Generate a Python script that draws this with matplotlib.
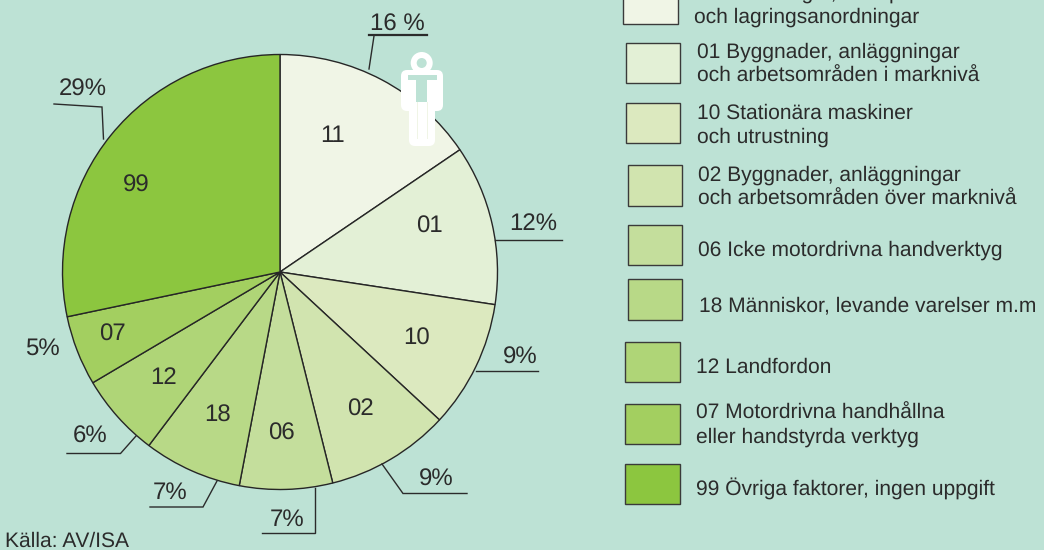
import matplotlib
matplotlib.use('Agg')
import matplotlib.pyplot as plt
from matplotlib.patches import Rectangle, FancyBboxPatch, Circle

# Slice sizes, clockwise from 12 o'clock
codes = ['11', '01', '10', '02', '06', '18', '12', '07', '99']
sizes = [15.5, 11.9, 9.5, 9.2, 6.9, 7.3, 6.2, 5.2, 28.3]
percent_labels = ['16 %', '12%', '9%', '9%', '7%', '7%', '6%', '5%', '29%']
colors = ['#F0F5E6', '#E3F0D6', '#DCE9BF', '#D1E4AF', '#C4DE9C',
          '#B8D987', '#AFD577', '#A3CF60', '#8CC63F']
legend_texts = [
    '11 Hanterings-, transport-\noch lagringsanordningar',
    '01 Byggnader, anläggningar\noch arbetsområden i marknivå',
    '10 Stationära maskiner\noch utrustning',
    '02 Byggnader, anläggningar\noch arbetsområden över marknivå',
    '06 Icke motordrivna handverktyg',
    '18 Människor, levande varelser m.m',
    '12 Landfordon',
    '07 Motordrivna handhållna\neller handstyrda verktyg',
    '99 Övriga faktorer, ingen uppgift',
]

BG = '#BDE2D5'
INK = '#2B2B2B'
H = 550

# Layout in pixels, y measured from the top
code_pos = [(333, 136), (429, 227), (417, 339), (360, 410), (281, 434),
            (218, 416), (164, 378), (112, 335), (136, 186)]
pct_pos = [(397, 25), (533, 224), (520, 358), (436, 480), (287, 520),
           (170, 493), (90, 437), (42, 349), (83, 90)]
leaders = [
    [(374, 36), (369, 69)],
    [(495, 240), (562, 240)],
    [(476, 371), (538, 371)],
    [(382, 464), (403, 493.5), (467, 493.5)],
    [(315, 488), (315, 533), (262, 533)],
    [(217, 481), (203, 507), (150, 507)],
    [(136, 436), (120.5, 453.5), (67, 453.5)],
    [(54, 104), (102, 107), (103.5, 139)],
]
# x0, x1, y0, y1 of the legend boxes
swatches = [(623, 678, -17, 23.5), (626, 680, 43, 83), (626, 680, 103, 143),
            (627.5, 682, 165, 205.5), (627.5, 682, 225, 265), (627.5, 682, 279, 320),
            (625, 680, 342, 382), (625, 680, 404, 444), (625, 680, 464, 504)]
# x and last-line baseline of the legend texts
legend_pos = [(694, 23), (697, 82), (697, 143), (698, 205), (698, 256),
              (699, 311), (696, 373), (696, 443), (696, 495)]


def Y(y):
    return H - y


plt.rcParams['font.family'] = ['Liberation Sans', 'DejaVu Sans']
plt.rcParams['text.hinting'] = 'none'
plt.rcParams['text.hinting_factor'] = 1

fig = plt.figure(figsize=(10.44, 5.5), dpi=100, facecolor=BG)
ax = fig.add_axes([0, 0, 1, 1])

ax.pie(sizes, colors=colors, center=(280, Y(272)), radius=217.5, startangle=90,
       counterclock=False, wedgeprops={'edgecolor': '#262626', 'linewidth': 1.0})
ax.set_xlim(0, 1044)
ax.set_ylim(0, H)
ax.set_aspect('equal')
ax.axis('off')

for code, (x, y) in zip(codes, code_pos):
    ax.text(x, Y(y), code, fontsize=17.4, color=INK, ha='center', va='center')
for label, (x, y) in zip(percent_labels, pct_pos):
    ax.text(x, Y(y), label, fontsize=17.4, color=INK, ha='center', va='center')

for pts in leaders:
    ax.plot([p[0] for p in pts], [Y(p[1]) for p in pts], color='#2B2B2B', lw=1.0,
            solid_joinstyle='miter')
ax.plot([369, 427], [Y(35), Y(35)], color='#2B2B2B', lw=1.6)

# Legend
for (x0, x1, y0, y1), color in zip(swatches, colors):
    ax.add_patch(Rectangle((x0, Y(y1)), x1 - x0, y1 - y0, facecolor=color,
                           edgecolor='#3A3A3A', lw=1.0))
for text, (x, y) in zip(legend_texts, legend_pos):
    ax.text(x, Y(y), text, fontsize=15.4, color=INK, ha='left', va='baseline',
            linespacing=1.33)

ax.text(5, Y(546.5), 'Källa: AV/ISA', fontsize=15.4, color=INK, ha='left', va='baseline')

# White figure of a person on the rim of the pie
white = {'facecolor': 'white', 'edgecolor': 'none', 'zorder': 5}
ax.add_patch(Circle((421.7, Y(63)), 11, **white))
ax.add_patch(Circle((421.7, Y(63)), 5, facecolor=BG, edgecolor='none', zorder=6))
ax.add_patch(FancyBboxPatch((407, Y(105)), 30, 29, boxstyle='round,pad=6', **white))
ax.add_patch(FancyBboxPatch((415, Y(140)), 14, 50, boxstyle='round,pad=6', **white))
ax.add_patch(Rectangle((408, Y(79.5)), 29, 4.5, facecolor=BG, edgecolor='none', zorder=6))
ax.add_patch(Rectangle((416, Y(102)), 11, 26, facecolor=BG, edgecolor='none', zorder=6))
ax.add_patch(Rectangle((416.5, Y(139)), 1.5, 37, facecolor='#F0F5E6', edgecolor='none', zorder=6))
ax.add_patch(Rectangle((426.5, Y(139)), 1.5, 37, facecolor='#F0F5E6', edgecolor='none', zorder=6))

fig.savefig('out.png', dpi=100, facecolor=BG)
